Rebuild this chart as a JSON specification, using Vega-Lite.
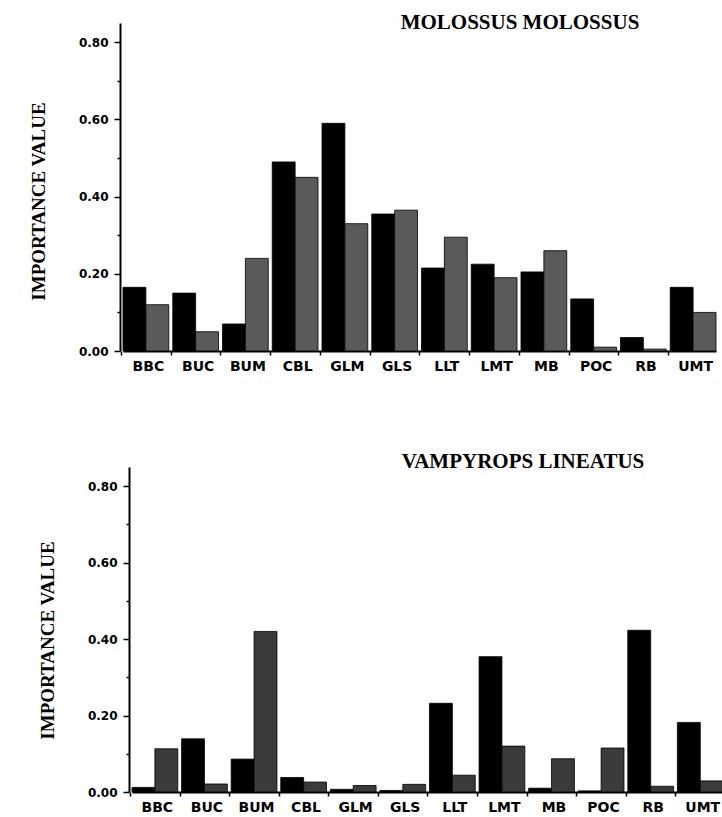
{
  "$schema": "https://vega.github.io/schema/vega-lite/v6.json",
  "background": "white",
  "padding": {"left": 29, "top": 12, "right": 0, "bottom": 0},
  "bounds": "flush",
  "spacing": 116,
  "datasets": {
    "molossus": [
      {"site": "BBC", "series": "A", "value": 0.165}, {"site": "BBC", "series": "B", "value": 0.12},
      {"site": "BUC", "series": "A", "value": 0.15}, {"site": "BUC", "series": "B", "value": 0.05},
      {"site": "BUM", "series": "A", "value": 0.07}, {"site": "BUM", "series": "B", "value": 0.24},
      {"site": "CBL", "series": "A", "value": 0.49}, {"site": "CBL", "series": "B", "value": 0.45},
      {"site": "GLM", "series": "A", "value": 0.59}, {"site": "GLM", "series": "B", "value": 0.33},
      {"site": "GLS", "series": "A", "value": 0.355}, {"site": "GLS", "series": "B", "value": 0.365},
      {"site": "LLT", "series": "A", "value": 0.215}, {"site": "LLT", "series": "B", "value": 0.295},
      {"site": "LMT", "series": "A", "value": 0.225}, {"site": "LMT", "series": "B", "value": 0.19},
      {"site": "MB", "series": "A", "value": 0.205}, {"site": "MB", "series": "B", "value": 0.26},
      {"site": "POC", "series": "A", "value": 0.135}, {"site": "POC", "series": "B", "value": 0.01},
      {"site": "RB", "series": "A", "value": 0.035}, {"site": "RB", "series": "B", "value": 0.005},
      {"site": "UMT", "series": "A", "value": 0.165}, {"site": "UMT", "series": "B", "value": 0.1}
    ],
    "vampyrops": [
      {"site": "BBC", "series": "A", "value": 0.012}, {"site": "BBC", "series": "B", "value": 0.113},
      {"site": "BUC", "series": "A", "value": 0.139}, {"site": "BUC", "series": "B", "value": 0.021},
      {"site": "BUM", "series": "A", "value": 0.086}, {"site": "BUM", "series": "B", "value": 0.42},
      {"site": "CBL", "series": "A", "value": 0.038}, {"site": "CBL", "series": "B", "value": 0.026},
      {"site": "GLM", "series": "A", "value": 0.007}, {"site": "GLM", "series": "B", "value": 0.017},
      {"site": "GLS", "series": "A", "value": 0.004}, {"site": "GLS", "series": "B", "value": 0.02},
      {"site": "LLT", "series": "A", "value": 0.232}, {"site": "LLT", "series": "B", "value": 0.044},
      {"site": "LMT", "series": "A", "value": 0.354}, {"site": "LMT", "series": "B", "value": 0.12},
      {"site": "MB", "series": "A", "value": 0.01}, {"site": "MB", "series": "B", "value": 0.087},
      {"site": "POC", "series": "A", "value": 0.003}, {"site": "POC", "series": "B", "value": 0.115},
      {"site": "RB", "series": "A", "value": 0.423}, {"site": "RB", "series": "B", "value": 0.015},
      {"site": "UMT", "series": "A", "value": 0.182}, {"site": "UMT", "series": "B", "value": 0.029}
    ]
  },
  "config": {
    "view": {"stroke": null},
    "axis": {
      "domainColor": "#000", "domainWidth": 2, "tickColor": "#000", "tickWidth": 1.5,
      "labelFont": "DejaVu Sans", "labelFontWeight": "bold", "labelColor": "#000",
      "grid": false, "titleFont": "Liberation Serif", "titleFontWeight": "bold", "titleColor": "#000"
    },
    "title": {"font": "Liberation Serif", "fontWeight": "bold", "fontSize": 21, "color": "#000"}
  },
  "resolve": {"scale": {"color": "independent"}},
  "vconcat": [
    {
      "width": 606, "height": 328,
      "title": {"text": "MOLOSSUS MOLOSSUS", "anchor": "middle", "dx": 97, "frame": "group", "offset": -27, "baseline": "alphabetic"},
      "data": {"name": "molossus"},
      "mark": {"type": "bar", "stroke": "#000", "strokeWidth": 0.8},
      "encoding": {
        "x": {
          "field": "site", "type": "nominal", "sort": null,
          "scale": {"range": [3, 596], "paddingInner": 0.08, "paddingOuter": 0},
          "axis": {"title": null, "labelAngle": 0, "bandPosition": 0, "tickOffset": -2, "labelOffset": 4, "labelFontSize": 14, "labelPadding": 4, "tickSize": 4}
        },
        "xOffset": {"field": "series", "type": "nominal"},
        "y": {
          "field": "value", "type": "quantitative",
          "scale": {"domain": [0, 0.85], "nice": false},
          "axis": {
            "title": "IMPORTANCE VALUE", "titleFontSize": 19, "titlePadding": 30, "titleY": 178,
            "values": [0, 0.1, 0.2, 0.3, 0.4, 0.5, 0.6, 0.7, 0.8],
            "labelExpr": "round(datum.value*10) % 2 == 0 ? format(datum.value, '.2f') : ''",
            "tickSize": {"condition": {"test": "round(datum.value*10) % 2 == 1", "value": 3}, "value": 6},
            "labelFontSize": 12, "labelPadding": 6
          }
        },
        "color": {"field": "series", "type": "nominal", "scale": {"range": ["#000000", "#5a5a5a"]}, "legend": null}
      }
    },
    {
      "width": 612, "height": 325,
      "title": {"text": "VAMPYROPS LINEATUS", "anchor": "middle", "dx": 97, "frame": "group", "offset": -22, "baseline": "alphabetic"},
      "data": {"name": "vampyrops"},
      "mark": {"type": "bar", "stroke": "#000", "strokeWidth": 0.8},
      "encoding": {
        "x": {
          "field": "site", "type": "nominal", "sort": null,
          "scale": {"range": [12, 603], "paddingInner": 0.08, "paddingOuter": 0},
          "axis": {"title": null, "labelAngle": 0, "bandPosition": 0, "tickOffset": -2, "labelOffset": 4, "labelFontSize": 14, "labelPadding": 4, "tickSize": 4}
        },
        "xOffset": {"field": "series", "type": "nominal"},
        "y": {
          "field": "value", "type": "quantitative",
          "scale": {"domain": [0, 0.85], "nice": false},
          "axis": {
            "title": "IMPORTANCE VALUE", "titleFontSize": 19, "titlePadding": 30, "titleY": 173, "offset": -9,
            "values": [0, 0.1, 0.2, 0.3, 0.4, 0.5, 0.6, 0.7, 0.8],
            "labelExpr": "round(datum.value*10) % 2 == 0 ? format(datum.value, '.2f') : ''",
            "tickSize": {"condition": {"test": "round(datum.value*10) % 2 == 1", "value": 3}, "value": 6},
            "labelFontSize": 12, "labelPadding": 6
          }
        },
        "color": {"field": "series", "type": "nominal", "scale": {"range": ["#000000", "#3a3a3a"]}, "legend": null}
      }
    }
  ]
}
